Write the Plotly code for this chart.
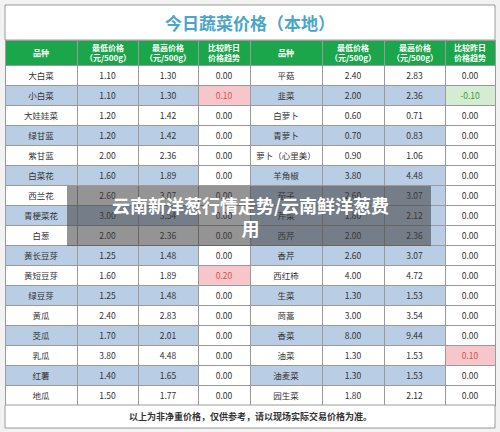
import plotly.graph_objects as go

left_names = ["大白菜","小白菜","大娃娃菜","绿甘蓝","紫甘蓝","白菜花","西兰花","青梗菜花","白葱","黄长豆芽","黄短豆芽","绿豆芽","黄瓜","茭瓜","乳瓜","红薯","地瓜"]
left_min = [1.10,1.10,1.20,1.20,2.00,1.60,2.60,3.00,2.00,1.25,1.60,1.25,2.40,1.70,3.80,1.40,1.50]
left_max = [1.30,1.30,1.42,1.42,2.36,1.89,3.07,3.54,2.36,1.48,1.89,1.48,2.83,2.01,4.48,1.65,1.77]
left_chg = [0,0.10,0,0,0,0,0,0,0,0,0.20,0,0,0,0,0,0]
right_names = ["平菇","韭菜","白萝卜","青萝卜","萝卜（心里美）","羊角椒","茄子","芹菜","西芹","香芹","西红柿","生菜","茼蒿","香菜","油菜","油麦菜","园生菜"]
right_min = [2.40,2.00,0.60,0.70,0.90,3.80,2.60,1.80,2.00,2.60,4.00,1.30,3.00,8.00,1.30,1.30,1.80]
right_max = [2.83,2.36,0.71,0.83,1.06,4.48,3.07,2.12,2.36,3.07,4.72,1.53,3.54,9.44,1.53,1.53,2.12]
right_chg = [0,-0.10,0,0,0,0,0,0,0,0,0,0,0,0,0.10,0,0]
left_blue = [0,1,0,1,0,1,0,1,0,1,0,1,0,1,0,1,0]
right_blue = [0,1,0,1,0,1,1,1,1,1,0,1,0,1,0,1,0]
headers = ["品种","最低价格<br>（元/500g）","最高价格<br>（元/500g）","比较昨日<br>价格趋势"]*2

BLUE, WHITE, PINK, LGREEN = "#b9cde5", "#ffffff", "#f7c6cb", "#d4edd2"
def bg(flags): return [BLUE if f else WHITE for f in flags]
def chgfill(v): return [PINK if x > 0 else (LGREEN if x < 0 else WHITE) for x in v]
def chgcol(v): return ["#d9534f" if x > 0 else ("#3a9a3a" if x < 0 else "#333") for x in v]
fmt = lambda a: [f"{x:.2f}" for x in a]

values = [left_names, fmt(left_min), fmt(left_max), fmt(left_chg),
          right_names, fmt(right_min), fmt(right_max), fmt(right_chg)]
fills = [bg(left_blue)]*3 + [chgfill(left_chg)] + [bg(right_blue)]*3 + [chgfill(right_chg)]
fcols = ["#333"]*3 + [chgcol(left_chg)] + ["#333"]*3 + [chgcol(right_chg)]

edges = [5, 77, 138, 198, 250, 322, 384, 445, 495]
widths = [edges[i+1]-edges[i] for i in range(8)]
FONT = "Noto Sans CJK SC"

fig = go.Figure(go.Table(
    domain=dict(x=[5/500, 495/500], y=[0.0, 1-40/432]),
    columnwidth=widths,
    header=dict(values=[""]*8, fill_color="#1ca64c", line_color="#9a9a9a", height=25,
                font=dict(size=6)),
    cells=dict(values=values, fill_color=fills, line_color="#9a9a9a",
               font=dict(color=fcols, size=8.5, family=FONT),
               align="center", height=20),
))

P = lambda y: 1 - y/432
shapes = [
    dict(type="rect", xref="paper", yref="paper", x0=5/500, x1=495/500, y0=P(40), y1=P(5),
         line=dict(color="#9a9a9a", width=1), fillcolor="white", layer="below"),
    dict(type="rect", xref="paper", yref="paper", x0=5/500, x1=495/500, y0=P(428), y1=P(405),
         line=dict(color="#9a9a9a", width=1), fillcolor="white"),
]
annotations = [
    dict(text="<b>今日蔬菜价格（本地）</b>", x=0.5, y=P(22), xref="paper", yref="paper",
         yanchor="middle", showarrow=False, font=dict(size=17, color="#4aa6c9", family=FONT)),
    dict(text="<b>以上为非净重价格，仅供参考，请以现场实际交易价格为准。</b>", x=0.5, y=P(416.5),
         xref="paper", yref="paper", yanchor="middle", showarrow=False,
         font=dict(size=9, color="#333", family=FONT)),
]
for i, h in enumerate(headers):
    annotations.append(dict(text=f"<b>{h}</b>", x=(edges[i]+edges[i+1])/1000, y=P(52.5),
                            xref="paper", yref="paper", xanchor="center", yanchor="middle",
                            align="center", showarrow=False,
                            font=dict(size=8, color="white", family=FONT)))
shapes.append(dict(type="rect", xref="paper", yref="paper", x0=67/500, x1=431/500, y0=P(246), y1=P(186),
                   line=dict(width=0), fillcolor="rgba(60,60,60,0.55)"))
annotations.append(dict(text="<b>云南新洋葱行情走势/云南鲜洋葱费<br>用</b>", x=0.5, y=P(216),
                        xref="paper", yref="paper", yanchor="middle", showarrow=False,
                        font=dict(size=18, color="white", family=FONT)))

fig.update_layout(width=500, height=432, margin=dict(l=0, r=0, t=0, b=0),
                  paper_bgcolor="#f2f2f2", shapes=shapes, annotations=annotations)
fig.write_html("out.html", config={"displayModeBar": False})

with open("out.html", encoding="utf-8") as f:
    html = f.read()
html = html.replace("<body>", '<body style="margin:0;overflow:hidden">', 1)
with open("out.html", "w", encoding="utf-8") as f:
    f.write(html)
